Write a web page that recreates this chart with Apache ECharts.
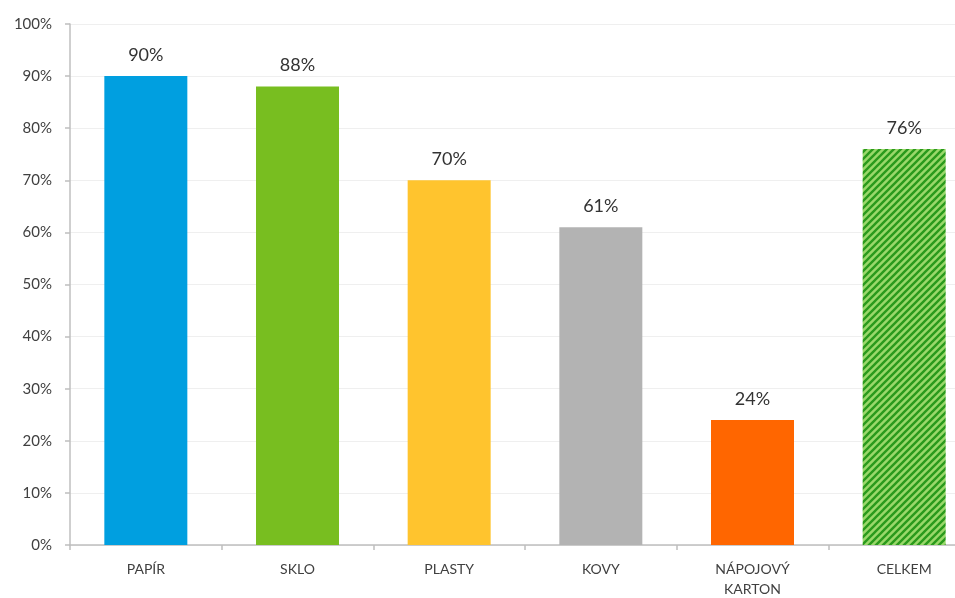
<!DOCTYPE html>
<html><head><meta charset="utf-8">
<script src="https://cdn.jsdelivr.net/npm/echarts@6/dist/echarts.min.js"></script>
<style>html,body{margin:0;padding:0;background:#fff}#c{width:955px;height:598px}</style>
</head><body><div id="c"></div>
<script>
var categories = ['PAPÍR', 'SKLO', 'PLASTY', 'KOVY', 'NÁPOJOVÝ\nKARTON', 'CELKEM'];
var values = [90, 88, 70, 61, 24, 76];
var yTicks = [0, 10, 20, 30, 40, 50, 60, 70, 80, 90, 100];

function hatch() {
  var c = document.createElement('canvas');
  c.width = 7; c.height = 7;
  var g = c.getContext('2d');
  g.fillStyle = '#9ad86a';
  g.fillRect(0, 0, 7, 7);
  g.strokeStyle = '#2a9a1c';
  g.lineWidth = 2.4;
  g.beginPath();
  g.moveTo(-1, 8); g.lineTo(8, -1);
  g.moveTo(-4, 4); g.lineTo(4, -4);
  g.moveTo(3, 11); g.lineTo(11, 3);
  g.stroke();
  return c;
}
var colors = ['#009fe0', '#78be20', '#ffc42e', '#b3b3b3', '#ff6600', {image: hatch(), repeat: 'repeat'}];

var chart = echarts.init(document.getElementById('c'), null, {renderer: 'canvas'});
chart.setOption({
  animation: false,
  textStyle: {fontFamily: 'Lato, "Open Sans", sans-serif'},
  grid: {left: 70, right: -25, top: 24, bottom: 53, containLabel: false, outerBoundsMode: 'none'},
  xAxis: {
    type: 'category',
    data: categories,
    axisLine: {lineStyle: {color: '#bfbfbf', width: 1.5}},
    axisTick: {show: true, alignWithLabel: false, length: 5, lineStyle: {color: '#bfbfbf', width: 1.5}},
    axisLabel: {color: '#404040', fontSize: 14, margin: 14, lineHeight: 20, interval: 0}
  },
  yAxis: {
    type: 'value',
    min: yTicks[0], max: yTicks[yTicks.length - 1], interval: 10,
    axisLine: {show: true, lineStyle: {color: '#bfbfbf', width: 1.5}},
    axisTick: {show: true, length: 5, lineStyle: {color: '#bfbfbf', width: 1.5}},
    splitLine: {lineStyle: {color: '#efefef', width: 1}},
    axisLabel: {color: '#404040', fontSize: 15, margin: 18, formatter: '{value}%'}
  },
  series: [{
    type: 'bar',
    barWidth: 83,
    data: values.map(function (v, i) { return {value: v, itemStyle: {color: colors[i]}}; }),
    label: {show: true, position: 'top', distance: 12, color: '#333333', fontSize: 18, formatter: '{c}%'}
  }]
});
</script></body></html>
